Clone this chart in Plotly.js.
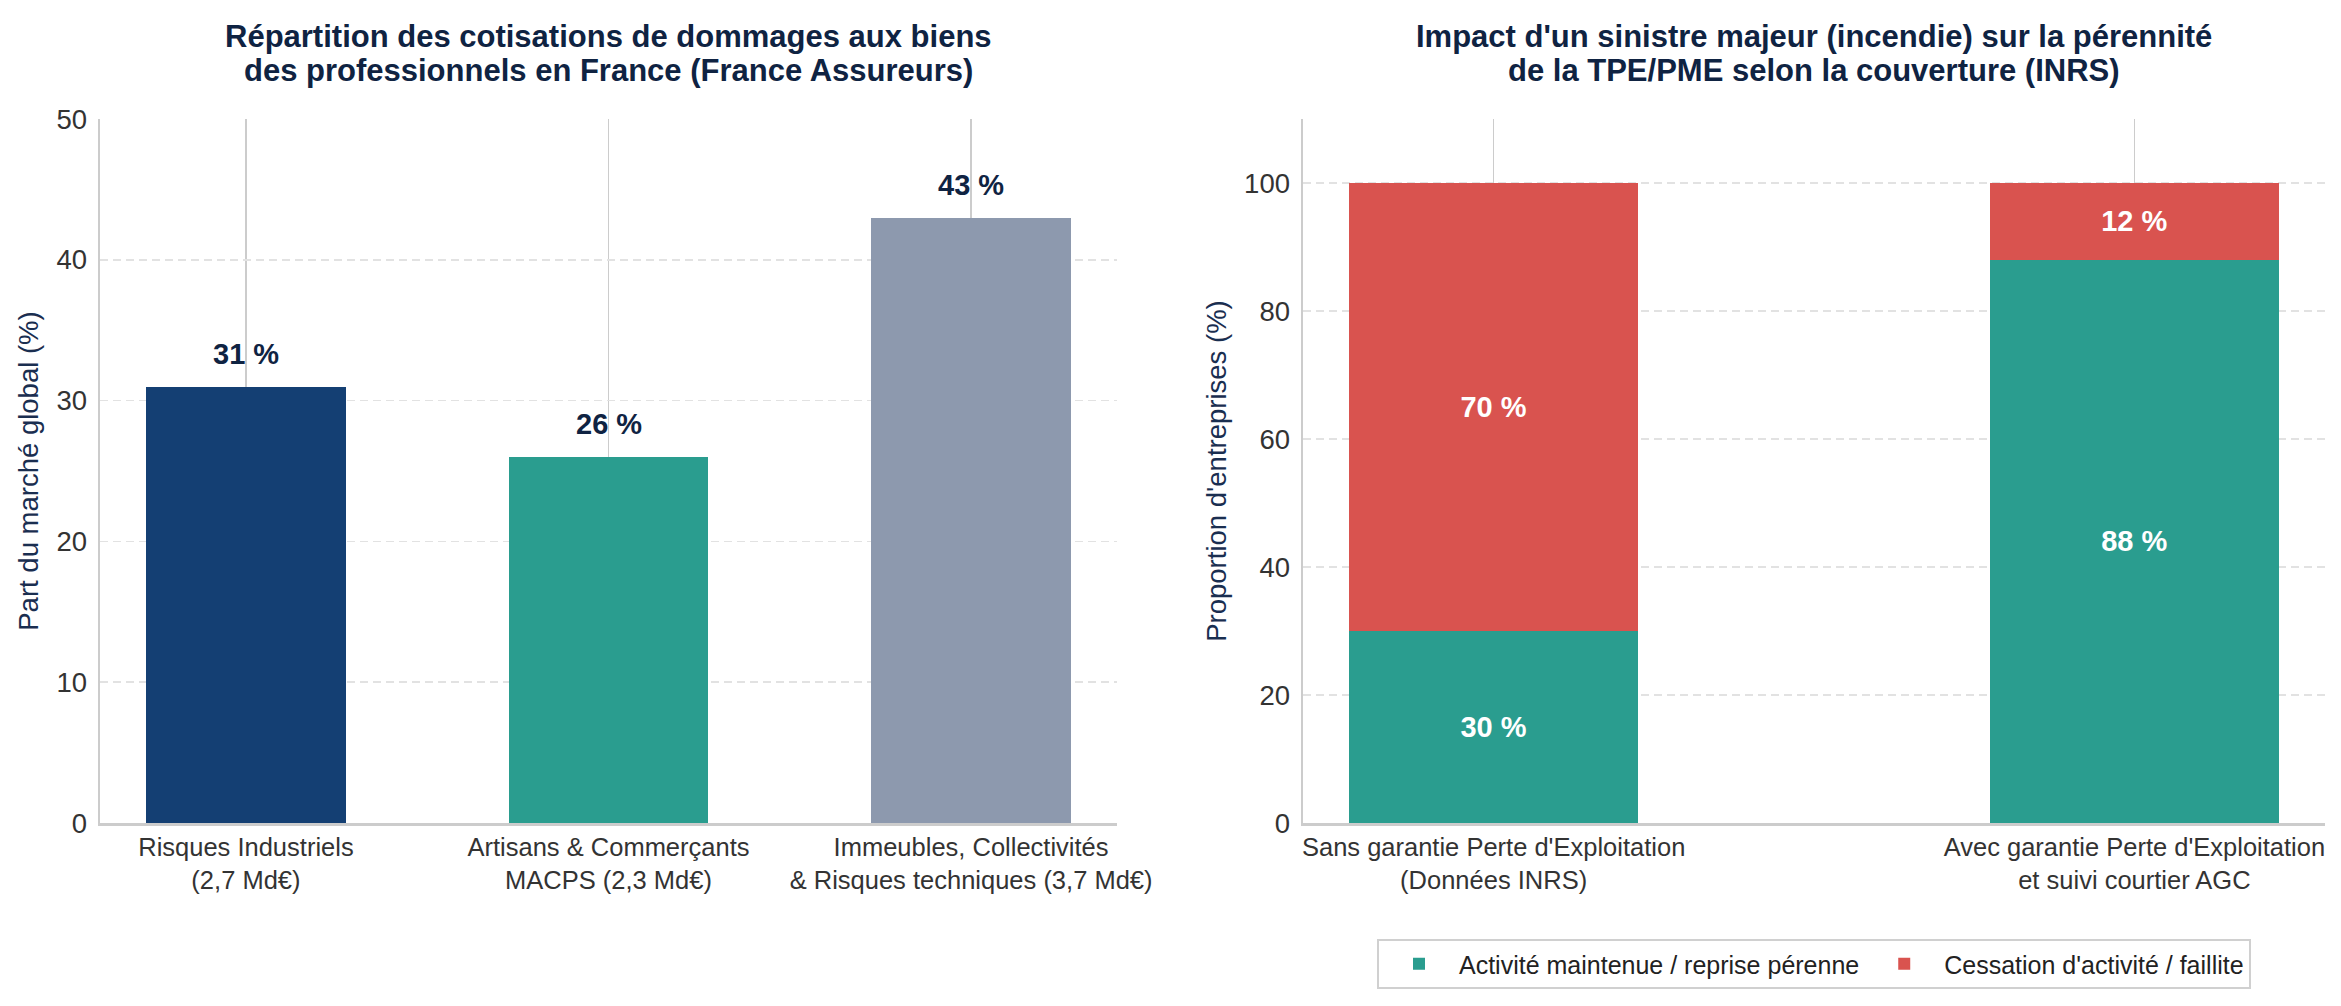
<!DOCTYPE html>
<html>
<head>
<meta charset="utf-8">
<script src="https://cdn.plot.ly/plotly-3.0.1.min.js"></script>
<style>html,body{margin:0;padding:0;background:#fff;}#chart{width:2341px;height:1006px;}</style>
</head>
<body>
<div id="chart"></div>
<script>
// ---- Data ----
const marketCategories = ["Risques Industriels<br>(2,7 Md€)", "Artisans & Commerçants<br>MACPS (2,3 Md€)", "Immeubles, Collectivités<br>& Risques techniques (3,7 Md€)"];
const marketShares = [31, 26, 43];
const marketLabels = ["31 %", "26 %", "43 %"];

const impactCategories = ["Sans garantie Perte d'Exploitation<br>(Données INRS)", "Avec garantie Perte d'Exploitation<br>et suivi courtier AGC"];
const survivalValues = [30, 88];
const failureValues = [70, 12];
const survivalLabels = ["30 %", "88 %"];
const failureLabels = ["70 %", "12 %"];
const seriesNames = ["Activité maintenue / reprise pérenne", "Cessation d'activité / faillite"];

const titleLeftLines = ["Répartition des cotisations de dommages aux biens", "des professionnels en France (France Assureurs)"];
const titleRightLines = ["Impact d'un sinistre majeur (incendie) sur la pérennité", "de la TPE/PME selon la couverture (INRS)"];

// ---- Styles ----
const FONT = "Liberation Sans, Arial, Helvetica, sans-serif";
const NAVY = "#0f2342";
const barColors = ["#143f73", "#2a9d8f", "#8d99ae"];
const TEAL = "#2a9d8f";
const RED = "#d9534f";

const W = 2341, H = 1006;
const xd1 = [100 / W, 1117 / W];
const xd2 = [1303 / W, 2325 / W];
const yd = [1 - 823 / H, 1 - 119 / H];

const traces = [
  {
    type: "bar", x: marketCategories, y: marketShares, xaxis: "x", yaxis: "y",
    marker: { color: barColors }, width: 0.55, showlegend: false, hoverinfo: "x+y"
  },
  {
    type: "bar", name: seriesNames[0], x: impactCategories, y: survivalValues, xaxis: "x2", yaxis: "y2",
    marker: { color: TEAL }, width: 0.45, text: survivalLabels, textposition: "inside",
    insidetextanchor: "middle", textangle: 0,
    textfont: { family: FONT, size: 29, color: "#ffffff", weight: "bold" }
  },
  {
    type: "bar", name: seriesNames[1], x: impactCategories, y: failureValues, xaxis: "x2", yaxis: "y2",
    marker: { color: RED }, width: 0.45, text: failureLabels, textposition: "inside",
    insidetextanchor: "middle", textangle: 0,
    textfont: { family: FONT, size: 29, color: "#ffffff", weight: "bold" }
  }
];

const commonX = {
  showgrid: true, gridcolor: "#cccccc", gridwidth: 1.5, griddash: "solid",
  showline: true, linecolor: "#cccccc", linewidth: 2.5,
  ticks: "", ticklen: 0,
  tickfont: { family: FONT, size: 25.5, color: "#333333" },
  automargin: false, zeroline: false, fixedrange: true
};
const commonY = {
  showgrid: true, gridcolor: "#e2e2e2", gridwidth: 1.5, griddash: "8px,5px",
  showline: true, linecolor: "#cccccc", linewidth: 2.5,
  ticks: "outside", ticklen: 5, tickcolor: "rgba(0,0,0,0)",
  tickfont: { family: FONT, size: 27.5, color: "#333333" },
  automargin: false, zeroline: false, fixedrange: true
};

const annotations = [];
[[titleLeftLines, xd1], [titleRightLines, xd2]].forEach(([lines, dom]) => {
  lines.forEach((ln, k) => {
    annotations.push({
      text: ln, xref: "paper", yref: "paper", x: (dom[0] + dom[1]) / 2, y: 1 - (36 + 35 * k) / H,
      xanchor: "center", yanchor: "middle", showarrow: false,
      font: { family: FONT, size: 31, color: NAVY, weight: "bold" }
    });
  });
});
marketCategories.forEach((c, i) => {
  annotations.push({
    text: marketLabels[i], x: c, y: marketShares[i], xref: "x", yref: "y",
    xanchor: "center", yanchor: "bottom", yshift: 15, showarrow: false,
    font: { family: FONT, size: 29, color: NAVY, weight: "bold" }
  });
});

const layout = {
  width: W, height: H,
  margin: { l: 0, r: 0, t: 0, b: 0 },
  paper_bgcolor: "#ffffff", plot_bgcolor: "#ffffff",
  barmode: "stack",
  font: { family: FONT, color: "#333333" },
  xaxis: Object.assign({}, commonX, { domain: xd1, anchor: "y", range: [-0.4025, 2.4025] }),
  yaxis: Object.assign({}, commonY, { domain: yd, anchor: "x", range: [0, 50], dtick: 10,
    title: { text: "Part du marché global (%)", standoff: 10, font: { family: FONT, size: 27.5, color: "#1a2e50" } } }),
  xaxis2: Object.assign({}, commonX, { domain: xd2, anchor: "y2", range: [-0.2975, 1.2975] }),
  yaxis2: Object.assign({}, commonY, { domain: yd, anchor: "x2", range: [0, 110], tickvals: [0, 20, 40, 60, 80, 100],
    title: { text: "Proportion d'entreprises (%)", standoff: 10, font: { family: FONT, size: 27.5, color: "#1a2e50" } } }),
  legend: {
    orientation: "h", x: (xd2[0] + xd2[1]) / 2, xanchor: "center", y: 1 - 964 / H, yanchor: "middle",
    font: { family: FONT, size: 25, color: "#222222" },
    bordercolor: "#d0d0d0", borderwidth: 2, bgcolor: "#ffffff",
    traceorder: "normal", itemwidth: 70
  },
  annotations: annotations,
  showlegend: true
};

Plotly.newPlot("chart", traces, layout, { displayModeBar: false, staticPlot: true });
</script>
</body>
</html>
